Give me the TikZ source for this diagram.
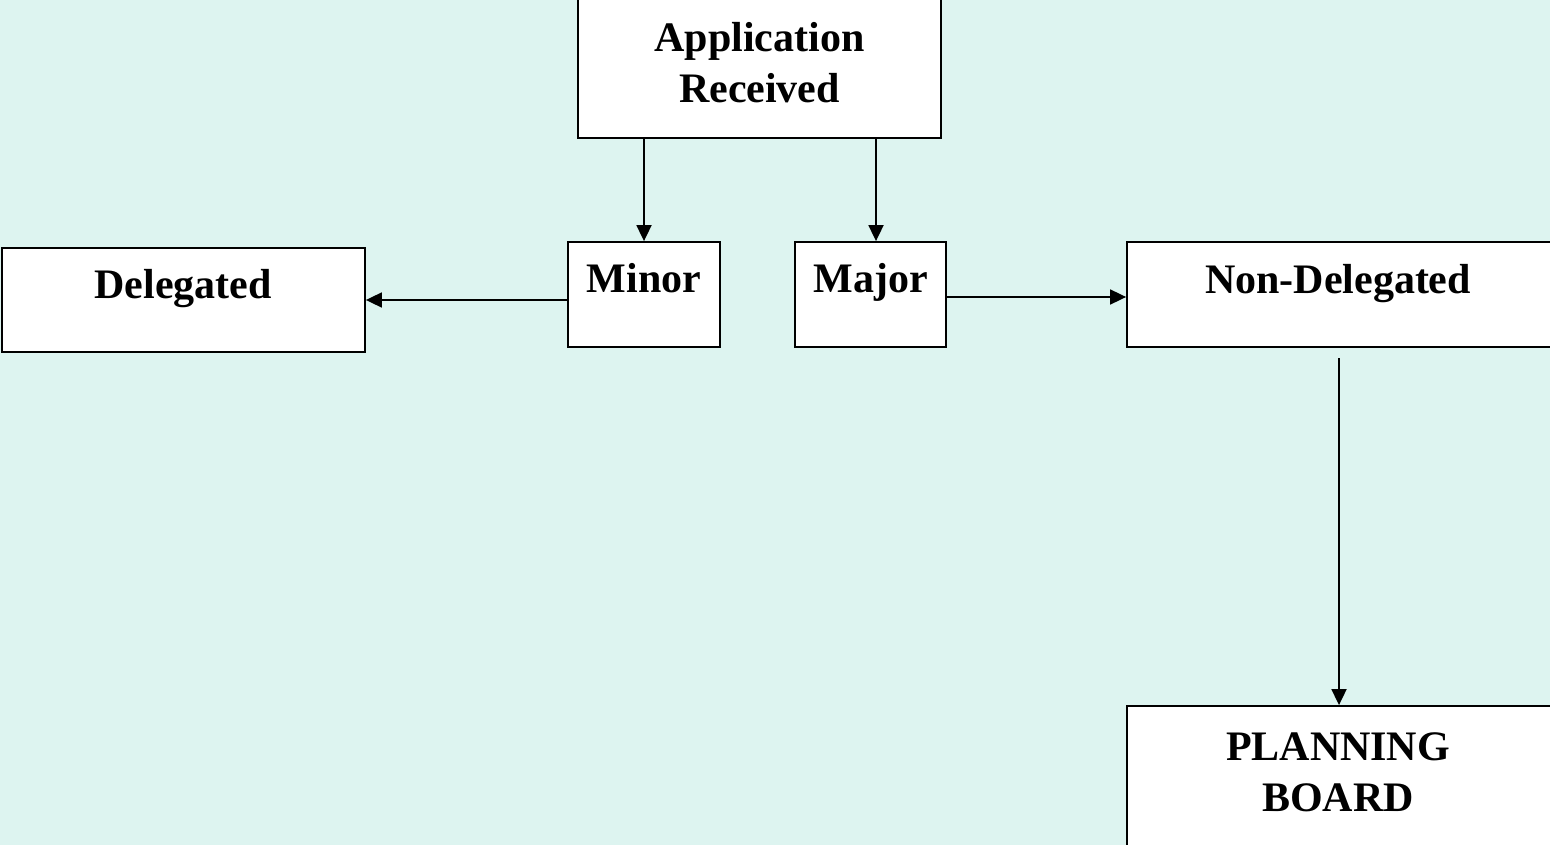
\documentclass[tikz,border=0pt]{standalone}
\usepackage{fontspec}
\setmainfont{Liberation Serif}
\usetikzlibrary{arrows.meta}
\definecolor{bg}{RGB}{221,244,240}
\tikzset{
  box/.style={draw=black, fill=white, line width=1.8pt, inner sep=0pt},
  lbl/.style={font=\fontsize{42}{51}\selectfont\bfseries, align=center, inner sep=0pt},
  conn/.style={line width=1.8pt, -{Triangle[length=16pt,width=15pt]}}
}
\begin{document}
\begin{tikzpicture}[x=1pt,y=-1pt]
\useasboundingbox (0,0) rectangle (1550,845);
\clip (0,0) rectangle (1550,845);
\fill[bg] (0,0) rectangle (1550,845);
% boxes
\node[box, minimum width=363pt, minimum height=158pt] (app) at (759.5,59) {};
\node[box, minimum width=363pt, minimum height=104pt] (del) at (183.5,300) {};
\node[box, minimum width=152pt, minimum height=105pt] (minor) at (644,294.5) {};
\node[box, minimum width=151pt, minimum height=105pt] (major) at (870.5,294.5) {};
\node[box, minimum width=425pt, minimum height=105pt] (nondel) at (1339.5,294.5) {};
\node[box, minimum width=425pt, minimum height=160pt] (board) at (1339.5,786) {};
% labels
\node[lbl] (tapp) at (759.5,63) {Application\\Received};
\node[lbl, anchor=base] (tdel) at (183,298) {Delegated};
\node[lbl, anchor=base] (tminor) at (644,292) {Minor};
\node[lbl, anchor=base] (tmajor) at (870.5,292) {Major};
\node[lbl, anchor=base] (tnondel) at (1338,293) {Non-Delegated};
\node[lbl] (tboard) at (1338,772) {PLANNING\\BOARD};
% connectors
\coordinate (nstart) at (1339,358);
\draw[conn] (app.south -| minor.north) -- (minor.north);
\draw[conn] (app.south -| 876,0) -- (876,0 |- major.north);
\draw[conn] (minor.west |- 0,300) -- (del.east |- 0,300);
\draw[conn] (major.east |- 0,297) -- (nondel.west |- 0,297);
\draw[conn] (nstart) -- (nstart |- board.north);
\end{tikzpicture}
\end{document}
